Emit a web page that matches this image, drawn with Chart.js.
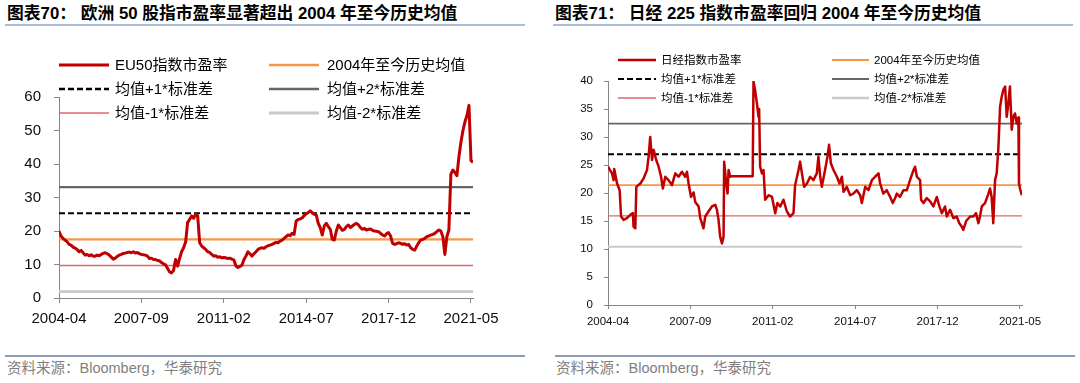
<!DOCTYPE html>
<html><head><meta charset="utf-8">
<script src="https://cdn.jsdelivr.net/npm/chart.js@4.4.0/dist/chart.umd.min.js"></script>
<style>
body{margin:0;width:1080px;height:383px;position:relative;background:#fff;overflow:hidden;font-family:"Liberation Sans","Noto Sans CJK SC",sans-serif;}
.title{position:absolute;top:4px;font-size:16.8px;font-weight:bold;color:#000;white-space:nowrap;line-height:20px;}
.rule{position:absolute;top:24px;width:520px;height:2px;background:#a9bdd8;}
.foot{position:absolute;top:355px;width:520px;height:2px;background:#8b9cb4;}
.src{position:absolute;top:360px;font-size:14.5px;color:#7f7f7f;line-height:17px;white-space:nowrap;}
.box{position:absolute;top:30px;width:540px;height:310px;}
.lg{position:absolute;white-space:nowrap;color:#000;}
svg.sw{position:absolute;overflow:visible;}
</style></head>
<body>
<div class="title" style="left:7px">图表70：&nbsp;欧洲 50 股指市盈率显著超出 2004 年至今历史均值</div>
<div class="rule" style="left:5px"></div>
<div class="title" style="left:555px">图表71：&nbsp;日经 225 指数市盈率回归 2004 年至今历史均值</div>
<div class="rule" style="left:553px"></div>
<div class="box" style="left:0"><canvas id="c1"></canvas></div>
<div class="box" style="left:540px"><canvas id="c2"></canvas></div>
<div class="foot" style="left:5px"></div>
<div class="foot" style="left:555px"></div>
<div class="src" style="left:7px">资料来源：Bloomberg，华泰研究</div>
<div class="src" style="left:556px">资料来源：Bloomberg，华泰研究</div>
<div id="legends"></div>
<script>
// x positions are month offsets from 2004-04
const tickMonths = [0, 41, 82, 123, 164, 205];
const tickLabels = ['2004-04', '2007-09', '2011-02', '2014-07', '2017-12', '2021-05'];
const bandNames = ['2004年至今历史均值', '均值+1*标准差', '均值+2*标准差', '均值-1*标准差', '均值-2*标准差'];

// EU50 PE, monthly from 2004-04
const euLabel = 'EU50指数市盈率';
const euPE = [
 20.0,18.5,17.8,17.3,16.8,16.0,15.8,15.2,14.9,14.5,13.8,14.2,
 13.5,12.8,13.0,12.6,12.9,12.5,12.5,12.8,12.6,13.0,13.3,13.5,
 13.2,12.8,12.2,11.6,11.9,12.4,12.8,13.0,13.3,13.4,13.6,13.7,
 13.5,13.8,13.4,13.6,13.2,13.0,12.9,12.8,12.5,11.8,11.9,11.5,
 11.5,11.2,11.1,10.6,10.2,9.9,8.9,7.8,7.5,8.2,11.5,9.5,
 11.8,13.8,15.0,16.7,22.5,23.5,24.5,23.8,25.0,24.5,16.5,15.5,
 15.0,14.5,13.8,13.6,13.0,12.5,12.6,12.2,12.3,12.0,12.1,12.0,
 11.8,11.9,11.6,11.4,9.6,9.1,9.4,9.8,11.4,12.5,13.8,13.2,
 12.5,13.2,13.8,14.5,14.8,15.0,14.8,15.3,15.6,15.8,16.0,16.3,
 16.6,16.5,17.0,17.3,17.8,18.3,18.8,18.6,19.3,19.0,23.0,23.4,
 23.6,23.9,24.6,25.2,25.5,26.0,25.5,25.0,24.8,22.3,21.0,18.8,
 21.5,22.3,21.3,20.5,17.5,17.3,20.0,21.8,21.0,20.2,20.5,21.3,
 21.8,21.0,21.5,22.0,22.3,21.8,21.0,20.5,20.8,20.3,20.5,20.6,
 20.2,20.0,19.9,19.8,19.3,18.8,18.5,19.2,19.5,18.5,16.3,16.0,
 16.2,16.5,16.3,16.0,16.2,15.8,16.0,15.0,14.5,14.3,15.5,16.5,
 17.3,17.5,17.8,18.3,18.5,18.8,19.0,19.3,19.8,20.3,20.0,18.3,
 13.0,18.3,20.3,37.0,38.2,37.5,36.5,42.2,46.5,50.0,52.6,54.5,
 57.5,41.0,40.5
];
const euBands = [17.5, 25.3, 33.1, 9.7, 1.9];

// Nikkei 225 PE, sampled points (month offset, value)
const nkLabel = '日经指数市盈率';
const nkMonth = [
 0,1,2,2.8,3.1,4.5,5.8,6.5,7.8,9.4,11.1,12.4,12.7,13.6,14.1,16.1,17.7,19.4,20.2,21.0,
 21.9,22.7,24.0,25.2,26.4,27.3,28.5,30.1,31.8,33.5,35.1,36.8,38.4,39.3,40.1,41.3,42.6,43.4,45.1,45.9,
 46.7,47.5,48.4,50.0,51.7,53.4,54.2,55.0,55.8,56.7,57.5,57.8,58.8,59.5,60.0,60.8,61.5,72.0,72.4,73.2,
 74.1,74.9,75.2,75.7,76.6,77.4,78.2,79.9,81.6,83.2,84.3,85.7,87.3,89.0,90.6,92.3,93.1,94.8,95.6,96.5,
 97.6,99.0,100.6,102.2,103.9,104.7,105.6,106.4,108.0,109.2,110.0,110.9,112.2,113.9,115.2,116.4,117.2,118.8,120.5,122.1,
 123.8,125.5,126.3,128.0,129.6,131.3,132.9,134.6,135.4,137.0,138.7,140.4,141.7,142.9,143.7,145.3,147.0,148.7,150.3,152.0,
 152.8,153.7,155.3,155.8,157.0,158.6,160.3,161.9,163.6,164.9,166.1,167.7,168.6,170.2,171.9,173.5,174.8,176.0,176.8,178.2,
 180.2,181.8,183.1,184.3,185.1,186.0,187.6,189.3,190.1,190.9,191.7,192.6,193.4,194.2,195.1,195.9,196.7,197.6,198.4,199.2,
 200.0,200.9,201.7,202.5,203.4,204.2,204.5,205.0,205.9
];
const nkPE = [
 24.7,24.1,23.5,22.3,24.3,21.7,20.5,15.8,15.2,15.5,16.1,16.4,14.0,13.7,21.1,21.7,22.6,24.1,26.5,30.0,
 25.9,27.7,25.9,24.7,22.9,20.8,22.9,22.3,21.4,23.5,22.9,23.8,22.9,23.8,21.7,19.3,20.1,18.4,17.6,15.5,
 14.6,13.7,15.8,16.7,17.6,17.9,17.0,15.2,12.2,11.0,12.2,25.6,21.7,19.9,24.1,22.9,23.0,23.0,39.9,38.4,
 36.0,33.6,35.0,24.7,23.5,24.1,18.8,19.6,19.3,16.4,18.2,17.6,18.8,16.7,15.8,16.4,21.4,24.1,25.6,23.5,
 21.1,21.7,22.9,22.3,23.5,26.5,22.9,21.1,24.1,26.5,28.6,25.3,24.1,22.9,21.7,22.9,20.2,21.1,19.6,19.9,
 20.5,19.6,18.2,21.1,20.5,22.3,22.9,23.5,21.7,19.9,20.5,19.3,18.2,19.1,19.9,19.3,20.5,20.5,22.3,24.1,
 24.7,22.9,22.3,18.8,18.2,19.1,18.5,17.6,19.3,17.6,16.4,17.6,15.8,17.0,15.5,15.8,14.6,14.0,13.4,15.0,
 15.8,15.8,16.4,14.6,15.8,17.6,18.2,19.9,20.8,19.3,14.6,22.3,23.5,27.7,35.4,37.2,38.4,39.0,33.6,36.0,
 39.0,31.3,33.6,34.2,32.4,33.5,21.7,20.8,19.6
];
const nkBands = [21.4, 26.9, 32.4, 15.9, 10.4];

const seriesColor = '#C00000';
const bandColors = ['#F79646', '#000000', '#666666', '#E06666', '#C9C9C9'];
const bandDash = [[], [6, 3], [], [], []];
const X_MIN = 0, X_MAX = 206;

function makeChart(id, pts, label, bands, cfg) {
  const datasets = [{label: label, data: pts, borderColor: seriesColor, borderWidth: cfg.sw,
    pointRadius: 0, order: 0, borderJoinStyle: 'round'}];
  bands.forEach((v, i) => datasets.push({label: bandNames[i],
    data: [{x: X_MIN, y: v}, {x: X_MAX, y: v}], borderColor: bandColors[i],
    borderWidth: cfg.bw[i], borderDash: bandDash[i], pointRadius: 0, order: 1}));
  return new Chart(document.getElementById(id), {
    type: 'line',
    data: {datasets},
    options: {
      animation: false, responsive: true, maintainAspectRatio: false,
      layout: {padding: {left: 0, top: cfg.top, right: cfg.right, bottom: 0}},
      plugins: {legend: {display: false}, tooltip: {enabled: false}},
      scales: {
        x: {type: 'linear', min: X_MIN, max: X_MAX,
          afterBuildTicks: s => { s.ticks = tickMonths.map(v => ({value: v})); },
          afterFit: s => { s.height = cfg.xh; },
          ticks: {autoSkip: false, maxRotation: 0, padding: cfg.xpad, color: '#0d0d0d',
            font: {family: 'Liberation Sans', size: cfg.fs},
            callback: (v, i) => tickLabels[i]},
          grid: {drawOnChartArea: false, drawTicks: true, tickLength: cfg.tl, color: '#868686'},
          border: {display: true, color: '#868686', width: 1}},
        y: {min: 0, max: cfg.ymax,
          afterFit: s => { s.width = cfg.yw; },
          ticks: {stepSize: cfg.step, padding: cfg.ypad, color: '#0d0d0d',
            font: {family: 'Liberation Sans', size: cfg.fs}},
          grid: {drawOnChartArea: false, drawTicks: true, tickLength: cfg.tl, color: '#868686'},
          border: {display: true, color: '#868686', width: 1}}
      }
    }
  });
}

makeChart('c1', euPE.map((v, i) => ({x: i, y: v})), euLabel, euBands,
  {sw: 3, bw: [2.2, 2.2, 2.2, 1.4, 2.6], top: 67, right: 67, xh: 42, yw: 59,
   fs: 15, xpad: 7, ypad: 13, tl: 5, ymax: 60, step: 10});
makeChart('c2', nkMonth.map((m, i) => ({x: m, y: nkPE[i]})), nkLabel, nkBands,
  {sw: 2.5, bw: [1.8, 2, 1.8, 1.3, 2.2], top: 51, right: 58, xh: 35, yw: 68,
   fs: 11.5, xpad: 6, ypad: 11, tl: 4, ymax: 40, step: 5});

// legends (HTML, real text)
function legend(rows, cols, fs, names, lw) {
  const root = document.getElementById('legends');
  const styles = [{c: seriesColor, d: ''}].concat(bandColors.map((c, i) => ({c, d: bandDash[i].join(',')})));
  names.forEach((name, k) => {
    const r = Math.floor(k / 2), col = cols[k % 2], y = rows[r];
    const st = styles[k];
    const ns = 'http://www.w3.org/2000/svg';
    const svg = document.createElementNS(ns, 'svg');
    svg.setAttribute('class', 'sw');
    svg.setAttribute('width', col.sw); svg.setAttribute('height', 8);
    svg.style.left = col.sx + 'px'; svg.style.top = (y - 4) + 'px';
    const ln = document.createElementNS(ns, 'line');
    ln.setAttribute('x1', 0); ln.setAttribute('x2', col.sw);
    ln.setAttribute('y1', 4); ln.setAttribute('y2', 4);
    ln.setAttribute('stroke', st.c); ln.setAttribute('stroke-width', lw[k]);
    if (st.d) ln.setAttribute('stroke-dasharray', st.d);
    svg.appendChild(ln); root.appendChild(svg);
    const t = document.createElement('div');
    t.className = 'lg'; t.textContent = name;
    t.style.left = col.tx + 'px'; t.style.fontSize = fs + 'px';
    t.style.lineHeight = Math.round(fs * 1.2) + 'px';
    t.style.top = (y - Math.round(fs * 1.2) / 2) + 'px';
    root.appendChild(t);
  });
}
legend([65, 89, 113], [{sx: 59, sw: 50, tx: 115}, {sx: 269, sw: 50, tx: 327}], 15,
  [euLabel].concat(bandNames), [3, 2.5, 2.5, 2.5, 1.5, 3]);
legend([60, 79, 98], [{sx: 618, sw: 38, tx: 661}, {sx: 832, sw: 37, tx: 874}], 11.5,
  [nkLabel].concat(bandNames), [2.5, 2, 2, 2, 1.3, 2.5]);
</script>
</body></html>
